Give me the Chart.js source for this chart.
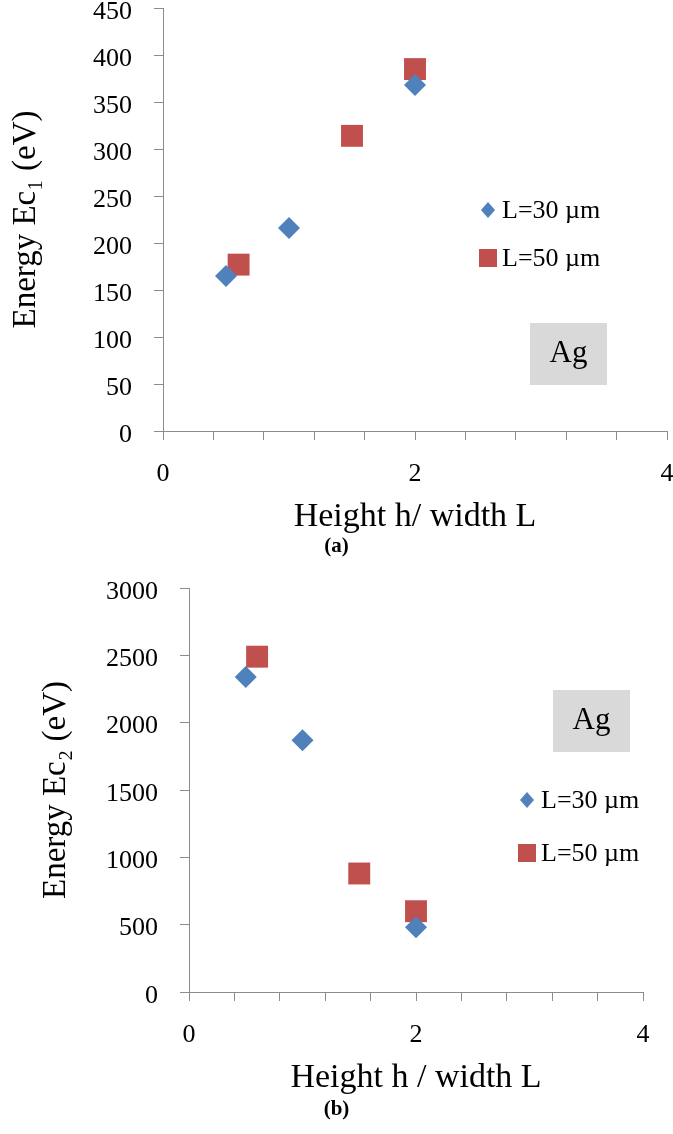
<!DOCTYPE html>
<html>
<head>
<meta charset="utf-8">
<script src="https://cdn.jsdelivr.net/npm/chart.js@4.4.0/dist/chart.umd.min.js"></script>
<style>
body { margin: 0; background: #fff; width: 673px; height: 1134px; position: relative; overflow: hidden; }
#boxA { position: absolute; left: 0; top: 0; width: 673px; height: 537px; }
#boxB { position: absolute; left: 0; top: 560px; width: 673px; height: 540px; }
.cap { position: absolute; left: 0; width: 673px; text-align: center; font: bold 21px "Liberation Serif", serif; color: #000; }
</style>
</head>
<body>
<div id="boxA"><canvas id="chartA"></canvas></div>
<div id="boxB"><canvas id="chartB"></canvas></div>
<div class="cap" style="top:533px">(a)</div>
<div class="cap" style="top:1096px">(b)</div>
<script>
// values
var seriesNames = ['L=30 µm', 'L=50 µm'];
var xTickLabels = [0, 2, 4];

// (a) first critical energy
var ratio30A = [0.5, 1.0, 2.0];
var energy30A = [165, 216, 368];
var ratio50A = [0.6, 1.5, 2.0];
var energy50A = [177, 314, 385];

// (b) second critical energy
var ratio30B = [0.5, 1.0, 2.0];
var energy30B = [2340, 1870, 480];
var ratio50B = [0.6, 1.5, 2.0];
var energy50B = [2490, 880, 600];

var blue = '#4f81bd';
var red = '#c0504d';
var axisGrey = '#8c8c8c';
var serif = '"Liberation Serif", serif';

function pts(xs, ys) {
	return xs.map(function(x, i) { return {x: x, y: ys[i]}; });
}

// legend and the "Ag" box sit inside the plot
var insideBits = {
	id: 'insideBits',
	afterDraw: function(chart) {
		var o = chart.options.plugins.insideBits;
		var ctx = chart.ctx;
		ctx.save();
		// Ag box
		ctx.fillStyle = '#d9d9d9';
		ctx.fillRect(o.box[0], o.box[1], o.box[2], o.box[3]);
		ctx.fillStyle = '#000';
		ctx.font = '31px ' + serif;
		ctx.textAlign = 'center';
		ctx.textBaseline = 'middle';
		ctx.fillText('Ag', o.box[0] + o.box[2] / 2, o.box[1] + o.box[3] / 2);
		// legend
		ctx.font = '26px ' + serif;
		ctx.textAlign = 'left';
		chart.data.datasets.forEach(function(ds, i) {
			var y = o.legY[i];
			ctx.fillStyle = ds.backgroundColor;
			if (ds.pointStyle === 'rect') {
				ctx.fillRect(o.legX - 9, y - 9, 18, 18);
			} else {
				ctx.beginPath();
				ctx.moveTo(o.legX, y - 8);
				ctx.lineTo(o.legX + 7, y);
				ctx.lineTo(o.legX, y + 8);
				ctx.lineTo(o.legX - 7, y);
				ctx.closePath();
				ctx.fill();
			}
			ctx.fillStyle = '#000';
			ctx.fillText(ds.label, o.legX + 14, y + 1);
		});
		ctx.restore();
	}
};

function makeChart(id, d30, d50, cfg) {
	return new Chart(document.getElementById(id), {
		type: 'scatter',
		data: {
			datasets: [
				{ label: seriesNames[0], data: d30, pointStyle: 'rectRot', pointRadius: 11, pointHoverRadius: 11,
				  backgroundColor: blue, borderColor: blue, borderWidth: 0 },
				{ label: seriesNames[1], data: d50, pointStyle: 'rect', pointRadius: 15.5, pointHoverRadius: 15.5,
				  backgroundColor: red, borderColor: red, borderWidth: 0 }
			]
		},
		options: {
			responsive: true,
			maintainAspectRatio: false,
			animation: false,
			layout: { autoPadding: false, padding: { top: cfg.top, right: cfg.right, left: 0, bottom: 0 } },
			plugins: {
				legend: { display: false },
				tooltip: { enabled: false },
				insideBits: { box: cfg.box, legX: cfg.legX, legY: cfg.legY }
			},
			scales: {
				x: {
					type: 'linear', min: 0, max: 4,
					afterFit: function(s) { s.height = cfg.xHeight; s.paddingLeft = 0; s.paddingRight = 0; },
					grid: { drawOnChartArea: false, drawTicks: true, tickLength: 9, color: axisGrey },
					border: { color: axisGrey, width: 1 },
					ticks: {
						stepSize: 0.4, autoSkip: false, maxRotation: 0, padding: 19,
						color: '#000', font: { family: serif, size: 26 },
						callback: function(v) {
							var hit = xTickLabels.filter(function(t) { return Math.abs(t - v) < 1e-6; });
							return hit.length ? String(hit[0]) : '';
						}
					},
					title: { display: true, text: cfg.xTitle, color: '#000',
						font: { family: serif, size: 34 }, padding: { top: 0, bottom: cfg.xTitlePad } }
				},
				y: {
					min: 0, max: cfg.yMax,
					afterFit: function(s) { s.width = cfg.yWidth; s.paddingTop = 0; s.paddingBottom = 0; },
					grid: { drawOnChartArea: false, drawTicks: true, tickLength: 9, color: axisGrey },
					border: { color: axisGrey, width: 1 },
					ticks: { stepSize: cfg.yStep, padding: 22, labelOffset: 4, color: '#000', font: { family: serif, size: 26 },
						callback: function(v) { return String(v); } },
					title: { display: true, text: cfg.yTitle, color: '#000',
						font: { family: serif, size: 33 }, padding: { top: cfg.yTitlePad, bottom: 0 } }
				}
			}
		},
		plugins: [insideBits]
	});
}

makeChart('chartA', pts(ratio30A, energy30A), pts(ratio50A, energy50A), {
	top: 8, right: 6, yWidth: 163, xHeight: 106, yMax: 450, yStep: 50,
	yTitle: 'Energy Ec\u2081 (eV)', yTitlePad: 7,
	xTitle: 'Height h/ width L', xTitlePad: 0,
	box: [530, 323, 77, 62], legX: 488, legY: [210, 258]
});

makeChart('chartB', pts(ratio30B, energy30B), pts(ratio50B, energy50B), {
	top: 28, right: 30, yWidth: 189, xHeight: 108, yMax: 3000, yStep: 500,
	yTitle: 'Energy Ec\u2082 (eV)', yTitlePad: 37,
	xTitle: 'Height h / width L', xTitlePad: 2,
	box: [553, 130, 77, 62], legX: 527, legY: [240, 293]
});
</script>
</body>
</html>
